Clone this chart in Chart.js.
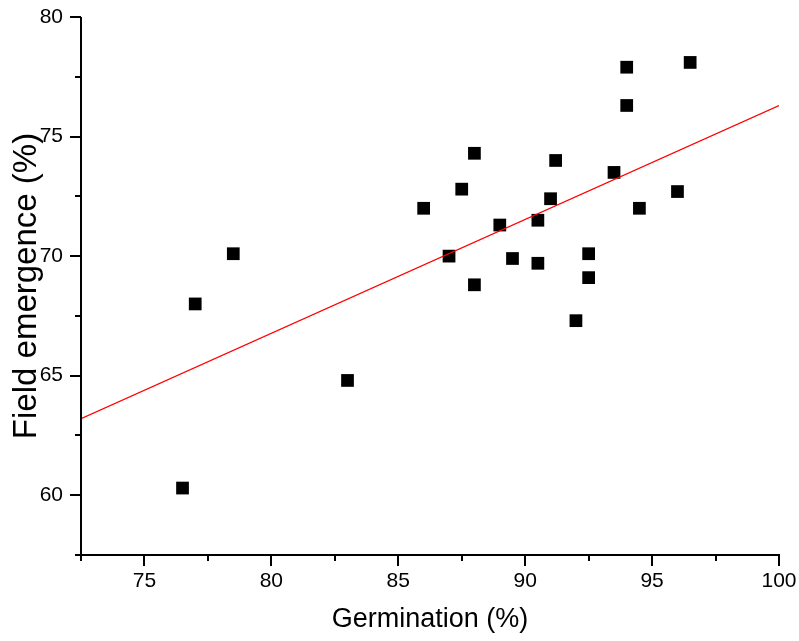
<!DOCTYPE html>
<html>
<head>
<meta charset="utf-8">
<script src="https://cdn.jsdelivr.net/npm/chart.js@4.4.1/dist/chart.umd.min.js"></script>
<style>
  html, body { margin: 0; padding: 0; background: #fff; }
  #wrap { width: 799px; height: 641px; }
</style>
</head>
<body>
<div id="wrap"><canvas id="chart" width="799" height="641"></canvas></div>
<script>
// data
var germination = [76.5, 77, 78.5, 83, 86, 87, 87.5, 88, 88, 89, 89.5, 90.5, 90.5, 91, 91.2, 92, 92.5, 92.5, 93.5, 94, 94, 94.5, 96, 96.5];
var emergence   = [60.3, 68, 70.1, 64.8, 72, 70, 72.8, 68.8, 74.3, 71.3, 69.9, 71.5, 69.7, 72.4, 74, 67.3, 70.1, 69.1, 73.5, 77.9, 76.3, 72, 72.7, 78.1];

// fitted line end points
var fitX = [72.5, 100];
var fitY = [63.2, 76.3];

var xTickLabels = [75, 80, 85, 90, 95, 100];
var yTickLabels = [60, 65, 70, 75, 80];

var points = germination.map(function (g, i) {
  return { x: g, y: emergence[i] };
});
var fitLine = fitX.map(function (x, i) {
  return { x: x, y: fitY[i] };
});

// axis lines with major / minor ticks
var axesPlugin = {
  id: 'axes',
  afterDraw: function (chart) {
    var ctx = chart.ctx, a = chart.chartArea;
    var xs = chart.scales.x, ys = chart.scales.y;
    ctx.save();
    ctx.strokeStyle = '#000';
    ctx.lineWidth = 2;
    ctx.beginPath();
    ctx.moveTo(a.left, a.top);
    ctx.lineTo(a.left, a.bottom + 1);
    ctx.moveTo(a.left - 1, a.bottom);
    ctx.lineTo(a.right + 1, a.bottom);
    xs.ticks.forEach(function (t) {
      var px = Math.round(xs.getPixelForValue(t.value));
      var len = xTickLabels.indexOf(t.value) > -1 ? 11 : 6;
      ctx.moveTo(px, a.bottom);
      ctx.lineTo(px, a.bottom + len);
    });
    ys.ticks.forEach(function (t) {
      var py = Math.round(ys.getPixelForValue(t.value));
      var len = yTickLabels.indexOf(t.value) > -1 ? 11 : 6;
      ctx.moveTo(a.left, py);
      ctx.lineTo(a.left - len, py);
    });
    ctx.stroke();
    ctx.restore();
  }
};

var fontFamily = '"Liberation Sans", Arial, sans-serif';
var tickFont = { family: fontFamily, size: 21 };

new Chart(document.getElementById('chart'), {
  type: 'scatter',
  data: {
    datasets: [{
      label: 'Fit',
      type: 'line',
      data: fitLine,
      borderColor: '#ff0000',
      borderWidth: 1.3,
      pointRadius: 0,
      fill: false,
      order: 0
    }, {
      label: 'Field emergence',
      data: points,
      pointStyle: 'rect',
      pointRadius: 9,
      pointHoverRadius: 9,
      backgroundColor: '#000',
      borderWidth: 0,
      order: 1
    }]
  },
  options: {
    responsive: false,
    animation: false,
    layout: { padding: { top: 17, right: 20, left: 0, bottom: 0 } },
    plugins: {
      legend: { display: false },
      tooltip: { enabled: false }
    },
    scales: {
      x: {
        type: 'linear',
        min: 72.5,
        max: 100,
        afterFit: function (scale) {
          scale.height = 86;
          scale.paddingLeft = 0;
          scale.paddingRight = 0;
        },
        grid: { display: false, drawTicks: false },
        border: { display: false },
        ticks: {
          stepSize: 2.5,
          autoSkip: false,
          maxRotation: 0,
          padding: 14,
          color: '#000',
          font: tickFont,
          callback: function (v) { return xTickLabels.indexOf(v) > -1 ? String(v) : ''; }
        },
        title: {
          display: true,
          text: 'Germination (%)',
          color: '#000',
          font: { family: fontFamily, size: 27 },
          padding: { top: 0, bottom: 5 }
        }
      },
      y: {
        type: 'linear',
        min: 57.5,
        max: 80,
        afterFit: function (scale) {
          scale.width = 81;
          scale.paddingTop = 0;
          scale.paddingBottom = 0;
        },
        grid: { display: false, drawTicks: false },
        border: { display: false },
        ticks: {
          stepSize: 2.5,
          autoSkip: false,
          padding: 18,
          color: '#000',
          font: tickFont,
          callback: function (v) { return yTickLabels.indexOf(v) > -1 ? String(v) : ''; }
        },
        title: {
          display: true,
          text: 'Field emergence (%)',
          color: '#000',
          font: { family: fontFamily, size: 33 },
          padding: { top: 7, bottom: 0 }
        }
      }
    }
  },
  plugins: [axesPlugin]
});
</script>
</body>
</html>
